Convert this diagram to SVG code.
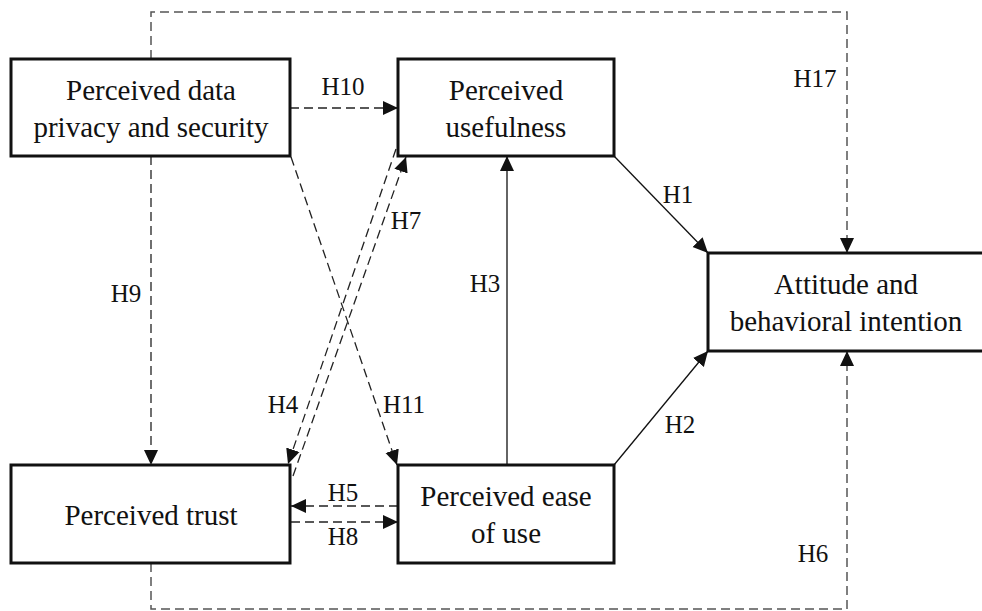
<svg xmlns="http://www.w3.org/2000/svg" width="982" height="611" viewBox="0 0 982 611">
<style>
.box{fill:#fff;stroke:#111;stroke-width:3}
.t{font-family:"Liberation Serif","Times New Roman",serif;font-size:29px;fill:#111;text-anchor:middle}
.l{font-family:"Liberation Serif","Times New Roman",serif;font-size:25px;fill:#111;text-anchor:middle}
.s{fill:none;stroke:#111;stroke-width:1.3}
.d{fill:none;stroke:#222;stroke-width:1.3;stroke-dasharray:9 5}
.g{fill:none;stroke:#555;stroke-width:1.5;stroke-dasharray:9 5}
</style>
<defs>
<marker id="ah" markerUnits="userSpaceOnUse" markerWidth="15" markerHeight="15" viewBox="0 0 15 15" refX="15" refY="7.5" orient="auto">
<path d="M0,0.5 L15,7.5 L0,14.5 z" fill="#111"/>
</marker>
</defs>
<g id="connectors">
<path class="g" d="M151,59 V12 H847 V253" marker-end="url(#ah)"/>
<path class="g" d="M151,563 V609 H847 V351" marker-end="url(#ah)"/>
<path class="d" d="M151,156 V465" marker-end="url(#ah)"/>
<path class="s" d="M507,465 V156" marker-end="url(#ah)"/>
<path class="s" d="M614,156 L708,253" marker-end="url(#ah)"/>
<path class="s" d="M614,465 L708,351" marker-end="url(#ah)"/>
<path class="d" d="M290,108 H398" marker-end="url(#ah)"/>
<path class="d" d="M291,157 L397,465" marker-end="url(#ah)"/>
<path class="d" d="M396,149 L288,464" marker-end="url(#ah)"/>
<path class="d" d="M293,476 L406,157" marker-end="url(#ah)"/>
<path class="d" d="M398,506 H291" marker-end="url(#ah)"/>
<path class="d" d="M291,522 H398" marker-end="url(#ah)"/>
<text class="l" x="815" y="87">H17</text>
<text class="l" x="813" y="562">H6</text>
<text class="l" x="343" y="95">H10</text>
<text class="l" x="678" y="203">H1</text>
<text class="l" x="680" y="433">H2</text>
<text class="l" x="485" y="292">H3</text>
<text class="l" x="126" y="302">H9</text>
<text class="l" x="406" y="229">H7</text>
<text class="l" x="283" y="413">H4</text>
<text class="l" x="404" y="413">H11</text>
<text class="l" x="343" y="501">H5</text>
<text class="l" x="343" y="545">H8</text>
</g>
<g id="privacy">
<rect class="box" x="11" y="59" width="279" height="97"/>
<text class="t" x="151" y="100">Perceived data</text>
<text class="t" x="151" y="137">privacy and security</text>
</g>
<g id="usefulness">
<rect class="box" x="398" y="59" width="216" height="97"/>
<text class="t" x="506" y="100">Perceived</text>
<text class="t" x="506" y="137">usefulness</text>
</g>
<g id="attitude">
<rect class="box" x="708" y="253" width="276" height="98"/>
<text class="t" x="846" y="294">Attitude and</text>
<text class="t" x="846" y="331">behavioral intention</text>
</g>
<g id="trust">
<rect class="box" x="11" y="465" width="279" height="98"/>
<text class="t" x="151" y="525">Perceived trust</text>
</g>
<g id="ease">
<rect class="box" x="398" y="465" width="216" height="98"/>
<text class="t" x="506" y="506">Perceived ease</text>
<text class="t" x="506" y="543">of use</text>
</g>
</svg>
